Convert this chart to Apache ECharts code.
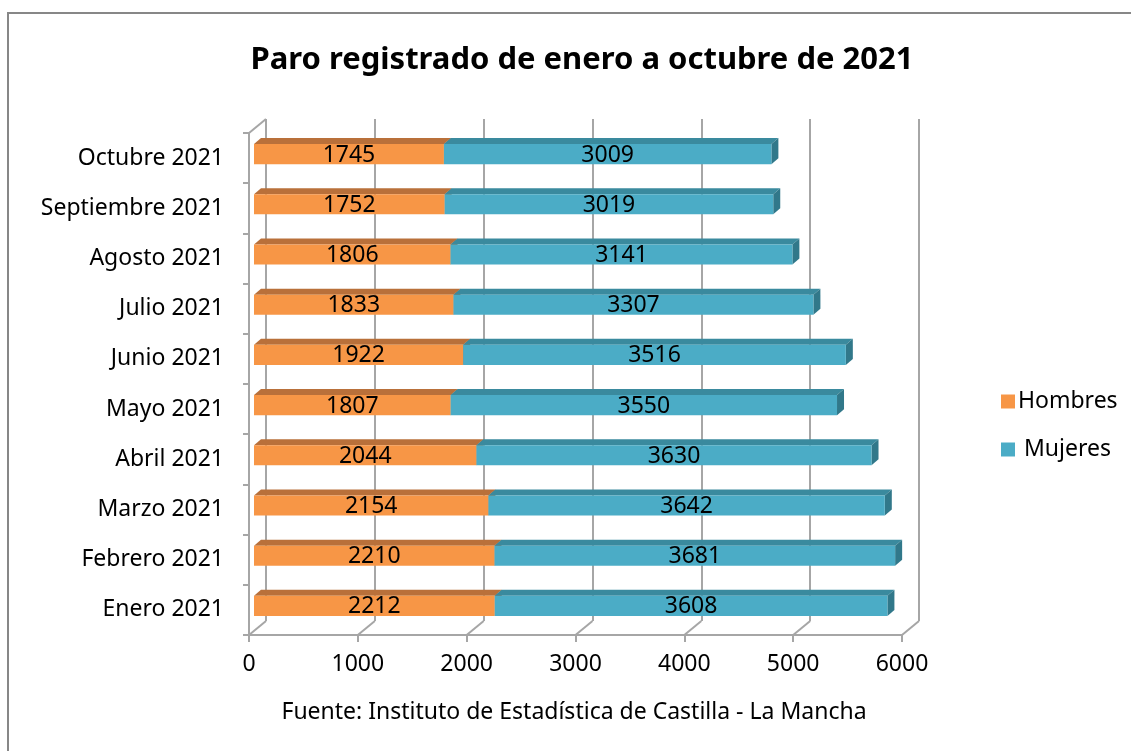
<!DOCTYPE html>
<html>
<head>
<meta charset="utf-8">
<script src="https://cdn.jsdelivr.net/npm/echarts@6/dist/echarts.min.js"></script>
<style>
  html, body { margin: 0; padding: 0; background: #fff; }
  #chart { width: 1131px; height: 751px; }
</style>
</head>
<body>
<div id="chart"></div>
<script>
// datos (de abajo hacia arriba)
const months = ['Enero 2021', 'Febrero 2021', 'Marzo 2021', 'Abril 2021', 'Mayo 2021',
  'Junio 2021', 'Julio 2021', 'Agosto 2021', 'Septiembre 2021', 'Octubre 2021'];
const hombres = [2212, 2210, 2154, 2044, 1807, 1922, 1833, 1806, 1752, 1745];
const mujeres = [3608, 3681, 3642, 3630, 3550, 3516, 3307, 3141, 3019, 3009];
const xTicks = [0, 1000, 2000, 3000, 4000, 5000, 6000];

const FONT = 'Noto Sans';
const FS = 23;
const DX = 7, DY = -6; // profundidad de la barra

// pseudo 3D: cara frontal, cara superior y lateral
function bar3d(topColor, sideColor) {
  return function (params, api) {
    const cat = api.value(0);
    const s = api.coord([api.value(1), cat]);
    const e = api.coord([api.value(2), cat]);
    const bh = api.size([0, 1])[1] * 0.4;
    const top = s[1] - bh / 2;
    return {
      type: 'group',
      children: [
        {
          type: 'polygon',
          shape: { points: [[s[0], top], [e[0], top], [e[0] + DX, top + DY], [s[0] + DX, top + DY]] },
          style: { fill: topColor }
        },
        {
          type: 'polygon',
          shape: { points: [[e[0], top], [e[0] + DX, top + DY], [e[0] + DX, top + DY + bh], [e[0], top + bh]] },
          style: { fill: sideColor }
        },
        {
          type: 'rect',
          shape: { x: s[0], y: top, width: e[0] - s[0], height: bh },
          style: { fill: api.visual('color') }
        },
        {
          type: 'text',
          x: (s[0] + e[0]) / 2,
          y: top + bh / 2 + 1,
          style: {
            text: String(api.value(3)),
            fill: '#000',
            font: FS + 'px "' + FONT + '"',
            align: 'center',
            verticalAlign: 'middle'
          }
        }
      ]
    };
  };
}

// diagonales del suelo y esquina superior izquierda
function floorLines(params, api) {
  const cs = params.coordSys;
  const x = api.coord([api.value(0), 0])[0];
  const bottom = cs.y + cs.height;
  const lineStyle = { stroke: '#A6A6A6', lineWidth: 2 };
  const children = [{
    type: 'line',
    shape: { x1: x, y1: bottom, x2: x + 17, y2: bottom - 14 },
    style: lineStyle
  }];
  if (api.value(0) === 0) {
    children.push({
      type: 'line',
      shape: { x1: x, y1: cs.y, x2: x + 17, y2: cs.y - 14 },
      style: lineStyle
    });
  }
  return { type: 'group', children };
}

const hData = months.map((m, i) => [i, 0, hombres[i], hombres[i]]);
const mData = months.map((m, i) => [i, hombres[i], hombres[i] + mujeres[i], mujeres[i]]);

const chart = echarts.init(document.getElementById('chart'));

chart.setOption({
  animation: false,
  backgroundColor: '#fff',
  title: {
    text: 'Paro registrado de enero a octubre de 2021',
    left: 577,
    top: 40,
    textAlign: 'center',
    textStyle: { fontFamily: FONT, fontSize: 31, fontWeight: 'bold', color: '#000' }
  },
  legend: {
    orient: 'vertical',
    left: 996,
    top: 385,
    itemWidth: 14,
    itemHeight: 14,
    itemGap: 25,
    icon: 'rect',
    formatter: name => name === 'Mujeres' ? ' ' + name : name,
    textStyle: { fontFamily: FONT, fontSize: FS, lineHeight: 23, color: '#000', padding: [0, 0, 0, -2] },
    data: ['Hombres', 'Mujeres']
  },
  graphic: [
    {
      type: 'rect',
      shape: { x: 8, y: 13, width: 1200, height: 800 },
      style: { fill: 'none', stroke: '#878787', lineWidth: 2 },
      silent: true
    },
    {
      type: 'text',
      x: 574,
      y: 712,
      style: {
        text: 'Fuente: Instituto de Estadística de Castilla - La Mancha',
        font: FS + 'px "' + FONT + '"',
        fill: '#000',
        align: 'center',
        verticalAlign: 'middle'
      }
    }
  ],
  grid: [
    { left: 266, top: 119, width: 653, height: 502 }, // pared del fondo
    { left: 249, top: 133, width: 653, height: 502 }, // ejes delanteros
    { left: 254, top: 129, width: 653, height: 502 }  // barras
  ],
  xAxis: [
    {
      gridIndex: 0, type: 'value', min: 0, max: 6000, interval: 1000,
      axisLine: { show: false }, axisTick: { show: false }, axisLabel: { show: false },
      splitLine: { show: true, lineStyle: { color: '#A6A6A6', width: 2 } }
    },
    {
      gridIndex: 1, type: 'value', min: 0, max: 6000, interval: 1000,
      axisLine: { show: true, lineStyle: { color: '#A6A6A6', width: 2 } },
      axisTick: { show: true, length: 7, lineStyle: { color: '#A6A6A6', width: 2 } },
      axisLabel: { margin: 18, color: '#000', fontFamily: FONT, fontSize: FS, formatter: v => String(v) },
      splitLine: { show: false }
    },
    {
      gridIndex: 2, type: 'value', min: 0, max: 6000, interval: 1000, show: false
    }
  ],
  yAxis: [
    { gridIndex: 0, type: 'category', data: months, show: false },
    {
      gridIndex: 1, type: 'category', data: months,
      axisLine: { show: true, lineStyle: { color: '#A6A6A6', width: 2 } },
      axisTick: { show: true, length: 6, lineStyle: { color: '#A6A6A6', width: 2 } },
      axisLabel: { margin: 25, color: '#000', fontFamily: FONT, fontSize: FS, padding: [4, 0, 0, 0] }
    },
    { gridIndex: 2, type: 'category', data: months, show: false }
  ],
  series: [
    {
      type: 'custom',
      name: 'floor',
      xAxisIndex: 1, yAxisIndex: 1,
      renderItem: floorLines,
      data: xTicks.map(v => [v]),
      encode: { x: 0 },
      silent: true,
      z: 1
    },
    {
      type: 'custom',
      name: 'Hombres',
      xAxisIndex: 2, yAxisIndex: 2,
      itemStyle: { color: '#F79646' },
      renderItem: bar3d('#B9703A', '#A6622E'),
      data: hData,
      encode: { x: [1, 2], y: 0 },
      z: 3
    },
    {
      type: 'custom',
      name: 'Mujeres',
      xAxisIndex: 2, yAxisIndex: 2,
      itemStyle: { color: '#4BACC6' },
      renderItem: bar3d('#3A8A9E', '#31788A'),
      data: mData,
      encode: { x: [1, 2], y: 0 },
      z: 3
    }
  ]
});
</script>
</body>
</html>
